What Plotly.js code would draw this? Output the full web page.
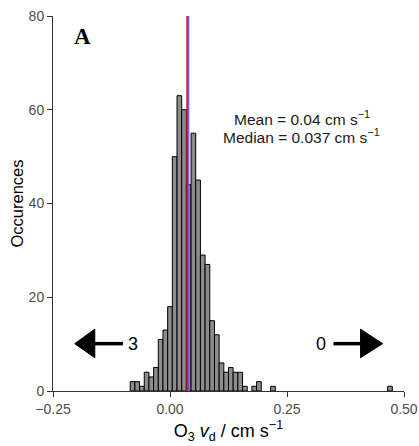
<!DOCTYPE html>
<html>
<head>
<meta charset="utf-8">
<script src="https://cdn.plot.ly/plotly-3.0.1.min.js"></script>
<style>html,body{margin:0;padding:0;background:#fff;}#chart{width:419px;height:446px;}</style>
</head>
<body>
<div id="chart"></div>
<script>
// Histogram of O3 deposition velocity (bin width 0.01 cm s-1, bin centres)
var binCenters = [-0.08, -0.07, -0.06, -0.05, -0.04, -0.03, -0.02, -0.01, 0.00,
                  0.01, 0.02, 0.03, 0.04, 0.05, 0.06, 0.07, 0.08, 0.09, 0.10,
                  0.11, 0.12, 0.13, 0.14, 0.15, 0.16, 0.18, 0.19, 0.22, 0.47];
var counts     = [2, 2, 1, 4, 3, 5, 11, 13, 18,
                  50, 63, 60, 44, 55, 45, 29, 27, 15, 12,
                  6, 4, 5, 4, 4, 1, 1, 2, 1, 1];
var binWidth = 0.01;
var meanVal = 0.04;
var medianVal = 0.037;
var xTicks = [-0.25, 0.00, 0.25, 0.50];
var yTicks = [0, 20, 40, 60, 80];
var offLeft = 3, offRight = 0;

var FONT = '"Liberation Sans", Arial, sans-serif';

var trace = {
  type: 'bar',
  x: binCenters,
  y: counts,
  width: binCenters.map(function(){return binWidth;}),
  marker: {color: '#8c8c8c', line: {color: '#000000', width: 1}},
  hoverinfo: 'x+y'
};

var layout = {
  width: 419, height: 446,
  margin: {l: 53, r: 15, t: 16, b: 55},
  paper_bgcolor: '#ffffff', plot_bgcolor: '#ffffff',
  showlegend: false,
  bargap: 0,
  font: {family: FONT, color: '#000'},
  xaxis: {
    range: [-0.25, 0.50], tickvals: xTicks, tickformat: '.2f',
    showgrid: false, zeroline: false, showline: true, linecolor: '#333', linewidth: 1,
    ticks: 'outside', ticklen: 5, tickcolor: '#333',
    tickfont: {family: FONT, size: 14, color: '#4d4d4d'},
    title: {text: 'O<sub>3</sub> <i>v</i><sub>d</sub> / cm s<sup>\u22121</sup>', font: {family: FONT, size: 18, color: '#000'}, standoff: 8}
  },
  yaxis: {
    range: [0, 80], tickvals: yTicks,
    showgrid: false, zeroline: false, showline: true, linecolor: '#333', linewidth: 1,
    ticks: 'outside', ticklen: 5, tickcolor: '#333',
    tickfont: {family: FONT, size: 14, color: '#4d4d4d'},
    title: {text: 'Occurences', font: {family: FONT, size: 16.5, color: '#000'}, standoff: 0}
  },
  shapes: [
    {type: 'line', xref: 'x', yref: 'y', x0: medianVal, x1: medianVal, y0: 0, y1: 80, line: {color: '#e8102a', width: 2}},
    {type: 'line', xref: 'x', yref: 'y', x0: meanVal, x1: meanVal, y0: 0, y1: 80, line: {color: '#6a5ae0', width: 1.2}},
    // left arrow
    {type: 'line', xref: 'x', yref: 'y', x0: -0.165, x1: -0.1007, y0: 10.1, y1: 10.1, line: {color: '#000', width: 3.5}},
    {type: 'path', xref: 'x', yref: 'y', path: 'M -0.2036 10.1 L -0.1607 13.2 L -0.1607 7.1 Z', fillcolor: '#000', line: {color: '#000', width: 1}},
    // right arrow
    {type: 'line', xref: 'x', yref: 'y', x0: 0.3493, x1: 0.411, y0: 10.1, y1: 10.1, line: {color: '#000', width: 3.5}},
    {type: 'path', xref: 'x', yref: 'y', path: 'M 0.4543 10.1 L 0.4072 13.2 L 0.4072 7.1 Z', fillcolor: '#000', line: {color: '#000', width: 1}}
  ],
  annotations: [
    {xref: 'paper', yref: 'paper', x: 0.055, y: 0.945, xanchor: 'left', yanchor: 'middle', showarrow: false,
     text: '<b>A</b>', font: {family: '"Liberation Serif", "Times New Roman", serif', size: 23, color: '#000'}},
    {xref: 'x', yref: 'y', x: 0.2815, y: 58.3, xanchor: 'center', yanchor: 'middle', showarrow: false,
     text: 'Mean = 0.04 cm s<sup>\u22121</sup>', font: {family: FONT, size: 15.5, color: '#1a1a1a'}},
    {xref: 'x', yref: 'y', x: 0.2815, y: 54.4, xanchor: 'center', yanchor: 'middle', showarrow: false,
     text: 'Median = 0.037 cm s<sup>\u22121</sup>', font: {family: FONT, size: 15.5, color: '#1a1a1a'}},
    {xref: 'x', yref: 'y', x: -0.079, y: 10.1, xanchor: 'center', yanchor: 'middle', showarrow: false,
     text: String(offLeft), font: {family: FONT, size: 18, color: '#000'}},
    {xref: 'x', yref: 'y', x: 0.3236, y: 10.1, xanchor: 'center', yanchor: 'middle', showarrow: false,
     text: String(offRight), font: {family: FONT, size: 18, color: '#000'}}
  ]
};

Plotly.newPlot('chart', [trace], layout, {staticPlot: true, displayModeBar: false});
</script>
</body>
</html>
